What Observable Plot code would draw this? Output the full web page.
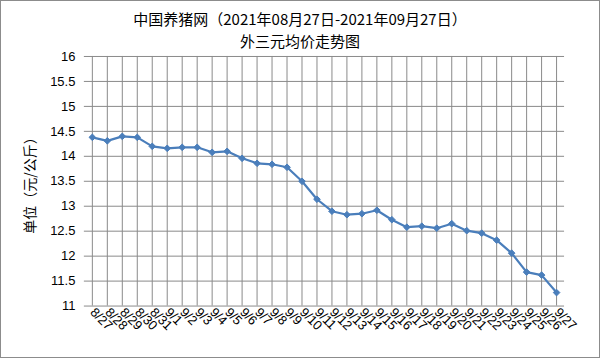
<!DOCTYPE html>
<html><head><meta charset="utf-8">
<script src="https://cdn.jsdelivr.net/npm/d3@7"></script>
<script src="https://cdn.jsdelivr.net/npm/@observablehq/plot@0.6"></script>
<style>
html,body{margin:0;padding:0;background:#fff;}
#wrap{position:relative;width:600px;height:358px;box-sizing:border-box;border:1px solid #8c8c8c;overflow:hidden;font-family:"Noto Sans CJK SC","Noto Sans",sans-serif;}
#title{position:absolute;left:0;top:7px;width:100%;text-align:center;font-size:15px;line-height:22px;color:#000;}
.layer{position:absolute;left:-1px;top:43px;}
#ylab{position:absolute;left:28px;top:181px;transform:translate(-50%,-50%) rotate(-90deg);white-space:nowrap;font-size:14px;color:#000;}
</style></head>
<body><div id="wrap"><div id="title">中国养猪网（2021年08月27日-2021年09月27日）<br>外三元均价走势图</div><div id="baseLayer" class="layer"></div><div id="overLayer" class="layer"></div><div id="ylab"></div></div>
<script>
const dates = ["8/27","8/28","8/29","8/30","8/31","9/1","9/2","9/3","9/4","9/5","9/6","9/7","9/8","9/9","9/10","9/11","9/12","9/13","9/14","9/15","9/16","9/17","9/18","9/19","9/20","9/21","9/22","9/23","9/24","9/25","9/26","9/27"];
const prices = [14.38,14.31,14.40,14.38,14.20,14.16,14.18,14.18,14.08,14.10,13.96,13.86,13.84,13.78,13.50,13.14,12.90,12.83,12.85,12.92,12.73,12.58,12.60,12.56,12.65,12.51,12.46,12.32,12.06,11.68,11.62,11.27];
const yTicks = [11,11.5,12,12.5,13,13.5,14,14.5,15,15.5,16];
const yLabel = "单位（元/公斤）";
const data = dates.map((d,i)=>({date:d, price:prices[i]}));
const color = "#4a7ebb";
const grid = "#8a8a8a";
const common = {
  width: 600, height: 315,
  marginLeft: 84, marginRight: 35, marginTop: 12, marginBottom: 53,
  style: {fontFamily: "'Liberation Sans','DejaVu Sans',sans-serif", fontSize: "13px", color: "#000", background: "transparent", overflow: "visible"},
  x: {type: "point", domain: dates, padding: 0},
  y: {domain: [11, 16]}
};
const baseChart = Plot.plot({
  ...common,
  marks: [
    Plot.ruleY(yTicks, {stroke: grid, strokeOpacity: 1, strokeWidth: 1}),
    Plot.ruleX(dates, {stroke: grid, strokeOpacity: 1, strokeWidth: 1}),
    Plot.axisY({ticks: yTicks, tickSize: 0, tickPadding: 9, tickFormat: d => String(d), label: null, fontSize: 13}),
    Plot.axisX({tickSize: 0, tickRotate: 45, tickPadding: 4, label: null, fontSize: 13})
  ]
});
const overChart = Plot.plot({
  ...common,
  x: {...common.x, axis: null},
  y: {...common.y, axis: null},
  marks: [
    Plot.line(data, {x: "date", y: "price", stroke: color, strokeWidth: 2.2}),
    Plot.dot(data, {x: "date", y: "price", symbol: "diamond2", fill: color, stroke: color, strokeWidth: 1, r: 3})
  ]
});
document.getElementById("baseLayer").appendChild(baseChart);
document.getElementById("overLayer").appendChild(overChart);
document.getElementById("ylab").textContent = yLabel;
</script></body></html>
